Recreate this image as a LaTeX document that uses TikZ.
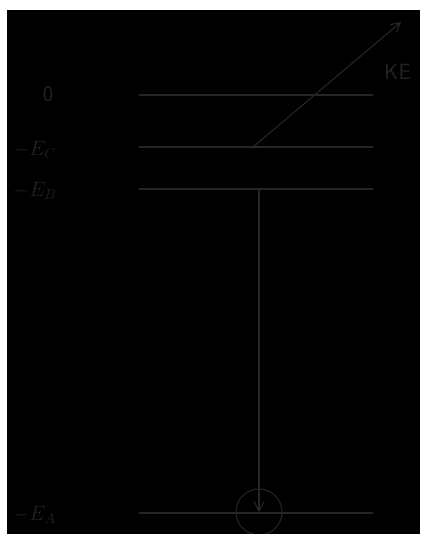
\documentclass[tikz,border=0pt]{standalone}
\usetikzlibrary{arrows.meta,positioning}
\definecolor{ink}{RGB}{38,38,38}
\definecolor{dimink}{RGB}{34,34,34}
\tikzset{
  >={Straight Barb[length=3.2mm,width=3.6mm]},
  level/.style={draw=ink,line width=1.6pt},
  jump/.style={->,draw=ink,line width=1.1pt},
  tag/.style={text=dimink,font=\fontsize{22}{26}\selectfont,inner sep=0pt},
}
\begin{document}
\begin{tikzpicture}[x=1pt,y=-1pt]
    % page: white margin at top and left, black field
    \useasboundingbox (0,0) rectangle (420,534);
    \fill[white] (0,0) rectangle (420,534);
    \fill[black] (7,10) rectangle (420,534);
    % energy levels
    \foreach \n/\y in {zero/95,ec/147,eb/189,ea/513}
    {
      \coordinate (\n-l) at (139,\y);
      \coordinate (\n-r) at (373,\y);
      \draw[level] (\n-l) -- (\n-r);
    }
    \node[tag,font=\fontsize{22}{26}\selectfont\sffamily] (tzero) at (48,94) {0};
    \node[tag,anchor=west] (tec) at (13,150) {$-E_C$};
    \node[tag,anchor=west] (teb) at (13,191) {$-E_B$};
    \node[tag,anchor=west] (tea) at (13,515) {$-E_A$};
    % ejected electron
    \coordinate (start) at (253,147);
    \coordinate (tip) at (401,22);
    \draw[jump] (start) -- (tip);
    \node[tag,anchor=west,font=\fontsize{22}{26}\selectfont\sffamily] (ke) at (384,72) {KE};
    % hole in the inner shell
    \coordinate (top) at (259,189);
    \node[circle,draw=ink,line width=1pt,minimum size=46pt,inner sep=0pt] (hole) at (259,512) {};
    \draw[jump] (top) -- (hole.center);
\end{tikzpicture}
\end{document}
